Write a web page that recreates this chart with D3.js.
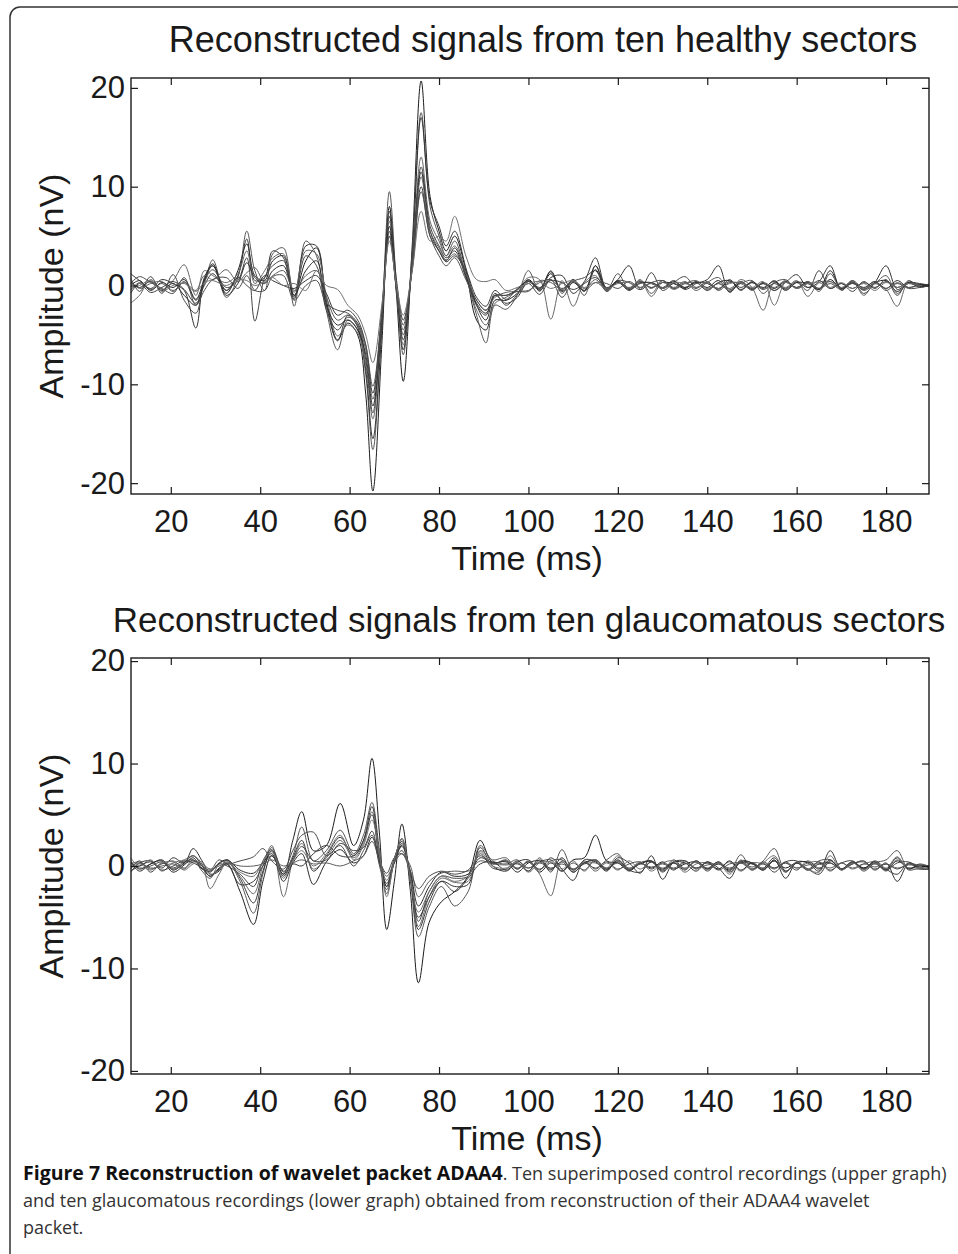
<!DOCTYPE html>
<html>
<head>
<meta charset="utf-8">
<script src="https://cdn.jsdelivr.net/npm/d3@7"></script>
<style>
    html, body { margin: 0; padding: 0; background: #fff; }
    svg { display: block; }
</style>
</head>
<body>
<svg id="chart" width="958" height="1254"></svg>
<script>
const xTicks = [20, 40, 60, 80, 100, 120, 140, 160, 180];
const yTicks = [-20, -10, 0, 10, 20];

// Times (ms) of the read-off points, upper graph
const healthyTimes = [
    11, 13, 15.5, 18, 20.5, 23, 25.6, 27.5, 29.4, 32.4,
    35, 37, 38.8, 41, 42.8, 45.2, 47.6, 50.2, 52.6, 54.8,
    57.3, 59.6, 61.8, 63.6, 65.2, 67.2, 68.9, 70.5, 72, 74,
    76, 78, 80, 81.6, 83.5, 86, 88.4, 90.5, 92.5,
    95, 97.5, 100, 102.5, 105, 107.5, 110, 112.5, 115, 117.5,
    120, 122.5, 125, 127.5, 130, 132.5, 135, 137.5, 140, 142.5,
    145, 147.5, 150, 152.5, 155, 157.5, 160, 162.5, 165, 167.5,
    170, 172.5, 175, 177.5, 180, 182.5, 185, 187.5, 190
];

// Ten control recordings (nV)
const healthySignals = [
    [0.3, -0.2, 0.4, -0.5, 0.2, -1.0, -2.0, 0.5, 2.0, -0.8, 1.5, 4.2, 1.0, 0.5, 2.5, 3.0, -1.0, 2.5, 3.8, -1.5,
     -5.5, -3.8, -5.0, -11.0, -20.8, -6.0, 8.0, -1.0, -9.7, 4.0, 20.7, 9.0, 5.5, 3.5, 5.0, 1.5, -3.5, -4.5, -1.5,
     -1.5, -0.8, 0.6, -0.4, 1.2, -0.6, 0.3, -0.5, 1.6, -0.4, 0.5, -0.3, 0.4, -0.2, 0.3, 0.2, -0.3, 0.4, -0.2, 0.5,
     -0.6, 0.3, -0.4, 0.2, -0.3, 0.4, -0.2, 0.3, -0.4, 0.6, -0.3, 0.2, -0.4, 0.3, 0.5, -0.6, 0.2, -0.1, 0.1],
    [-0.5, 0.3, -0.4, 0.2, -0.6, 0.4, -1.5, 0.2, 2.6, -1.2, 0.8, 5.5, 1.5, -0.5, 3.2, 3.8, -2.1, 4.5, 3.0, -2.5,
     -6.5, -3.5, -4.5, -9.0, -16.6, -4.0, 9.5, 0.0, -7.0, 3.5, 17.5, 8.0, 5.0, 3.0, 4.5, 1.0, -3.0, -5.8, -2.0,
     -2.4, -1.0, 1.5, -0.6, 1.5, -0.8, 0.6, -1.0, 2.0, -0.5, 1.2, -0.4, 0.6, -0.8, 0.5, -0.2, 0.4, -0.5, 0.3, 0.8,
     -0.4, 0.2, 0.5, -0.8, 0.3, 0.6, -0.3, 0.4, -0.6, 1.2, -0.4, 0.3, -0.5, 0.2, 1.0, -0.8, 0.3, 0.1, -0.1],
    [1.2, 0.5, -0.3, 0.6, 0.2, -0.5, -4.3, 0.8, 2.0, -0.5, 1.0, 4.7, 0.5, 0.8, 3.5, 2.8, -1.4, 4.0, 4.0, -2.0,
     -5.6, -3.0, -4.2, -8.5, -15.5, -4.5, 7.0, -0.5, -6.5, 3.0, 17.0, 8.5, 6.0, 4.0, 5.5, 1.8, -2.0, -3.5, -1.0,
     -1.8, -1.2, 0.4, -0.5, 0.8, 1.0, -0.8, 0.4, 2.8, -0.3, 0.6, 2.0, -0.4, 0.3, -0.2, 0.5, -0.4, 0.2, 0.6, 2.0,
     -0.7, 0.4, -0.3, 0.2, -0.5, 0.3, 1.1, -0.2, 0.4, 2.0, -0.5, 0.4, -0.8, 0.3, 2.0, -0.4, 0.3, 0.2, 0.0],
    [-1.8, -1.0, 0.6, -0.4, 0.5, 2.1, -1.0, 1.5, 1.0, 0.3, 1.2, 3.5, 0.2, 1.5, 2.8, 3.2, -0.7, 3.5, 3.2, -1.0,
     -5.1, -4.0, -4.8, -8.0, -13.5, -3.5, 6.5, -0.8, -6.0, 2.5, 13.0, 6.5, 4.5, 3.0, 4.0, 1.2, -2.5, -4.0, -1.8,
     -1.2, -0.5, 0.8, 0.6, -3.4, 0.5, -2.1, 0.3, 1.0, -0.6, 0.4, -0.3, 0.5, -1.1, 0.3, -0.4, 0.2, 0.5, -0.3, 0.2,
     -0.5, 0.6, -0.2, -2.5, 0.3, -0.2, 0.5, -1.1, 0.3, 0.4, -0.3, 0.5, -1.0, 0.2, -0.4, -2.1, 0.4, 0.0, 0.2],
    [0.8, -0.6, 0.9, -0.8, 1.1, -1.5, -2.8, 0.4, 1.6, -0.2, 0.5, 2.8, -3.6, 0.8, 2.0, 2.5, -1.2, 3.0, 2.0, -2.5,
     -4.5, -3.2, -4.0, -7.5, -12.9, -3.0, 5.5, -0.5, -5.0, 2.5, 12.0, 6.0, 4.0, 2.8, 3.5, 0.8, -2.0, -3.0, -0.8,
     -2.0, -0.9, 0.2, -0.9, 0.6, -1.2, 0.4, 0.8, 1.5, -0.6, 0.5, 0.3, -0.4, 1.3, -0.5, 0.3, 0.9, -0.2, 0.3, -0.4,
     0.6, -0.5, 0.4, -0.3, 0.5, -0.4, 0.3, -0.5, 1.5, -0.3, 0.2, -0.6, 0.4, -0.3, 0.6, -1.0, 0.5, -0.2, 0.1],
    [0.0, 0.5, -0.5, 0.3, -0.2, 0.6, -1.4, 0.6, 2.2, -1.0, 0.2, 2.3, 0.8, 0.2, 1.5, 2.0, -1.0, 1.5, 2.5, -2.0,
     -4.0, -3.5, -4.5, -7.0, -12.2, -3.5, 6.0, -0.5, -5.5, 2.0, 11.5, 5.5, 3.5, 2.5, 3.8, 1.0, -1.8, -2.8, -1.0,
     -1.0, -0.4, 0.5, -0.3, 1.4, -0.5, 0.6, -0.6, 2.0, -0.3, 0.4, -0.5, 0.3, 0.2, -0.3, 0.4, -0.2, 0.3, -0.5, 0.3,
     0.5, -0.4, 0.3, -0.2, 0.4, -0.5, 0.3, 0.2, -0.4, 1.5, -0.3, 0.3, -0.2, 0.4, -0.3, 0.5, -0.2, 0.1, 0.0],
    [0.5, -0.3, 0.2, 0.4, -0.5, 0.3, -0.5, 1.0, 0.6, 1.6, 0.4, 1.3, 1.8, 0.3, 1.0, 1.5, -0.5, 1.0, 1.5, -1.2,
     -3.5, -3.0, -4.0, -6.5, -11.5, -3.0, 5.0, -0.5, -4.5, 2.0, 11.0, 5.5, 3.8, 2.6, 3.2, 1.2, -1.5, -2.5, -1.2,
     -0.7, -0.6, -0.6, 0.5, 0.3, -0.4, 0.5, -0.3, 0.6, -0.5, 0.3, -0.2, 0.4, -0.3, 0.5, -0.3, 0.2, 0.3, -0.4, 0.2,
     -0.3, 0.4, -0.5, 0.3, -0.2, 0.5, -0.3, 0.2, -0.3, 0.4, -0.2, 0.3, -0.4, 0.2, -0.3, 0.3, -0.2, 0.0, -0.1],
    [-0.8, 0.2, -0.7, -0.2, 0.4, -0.4, -1.8, 0.0, 1.2, -0.5, 0.8, 0.0, -0.5, 1.0, 0.5, 0.0, -0.3, 0.5, 1.0, -0.8,
     -3.0, -2.5, -3.5, -6.0, -10.9, -2.5, 7.5, 0.5, -3.5, 1.5, 10.0, 5.0, 3.5, 2.4, 3.0, 1.5, -1.2, -2.1, -0.5,
     -1.4, -0.3, 0.4, -0.2, 0.5, 0.3, -0.4, 0.2, 0.8, -0.2, 0.3, -0.4, 0.2, 0.3, -0.3, 0.2, -0.2, 0.3, 0.2, -0.3,
     0.4, -0.2, 0.3, -0.4, 0.2, -0.3, 0.4, -0.2, 0.5, -0.3, 0.2, -0.3, 0.3, -0.2, 0.4, -0.2, 0.3, 0.0, 0.1],
    [0.2, 0.9, 0.3, -0.3, -0.8, 0.8, -2.0, -0.5, 0.6, 0.8, -0.3, 1.0, -0.5, -0.5, 0.9, 1.0, -1.5, 0.0, 0.5, -1.8,
     -2.5, -2.8, -3.8, -6.0, -10.2, -2.8, 5.0, -0.3, -4.0, 1.8, 9.5, 5.0, 3.0, 2.0, 2.8, 0.6, -1.5, -2.5, -1.0,
     -1.0, -0.6, -0.5, 0.3, 0.6, -0.3, 0.4, -0.5, 0.3, 0.2, -0.3, 0.4, -0.2, 0.3, 0.5, -0.3, 0.3, -0.3, 0.4, -0.5,
     0.3, 0.2, -0.4, 0.3, -0.5, 0.3, -0.2, 0.4, -0.3, 0.2, -0.4, 0.5, -0.3, 0.4, -0.5, 0.2, -0.3, -0.2, 0.1],
    [-0.3, 0.0, 0.5, -0.6, 0.0, 0.2, -0.6, 0.3, 0.5, 0.0, 0.6, 0.5, 0.0, 0.4, 0.8, 0.0, 0.2, -0.5, 1.5, 0.0,
     -0.4, -2.0, -3.0, -5.0, -7.8, -2.0, 4.5, 0.0, -3.0, 1.5, 7.5, 4.5, 5.0, 4.5, 7.0, 3.0, 0.6, 0.4, 0.6,
     -0.5, -0.2, 0.2, 0.4, -0.3, 0.2, 0.5, -0.2, 0.3, -0.3, 0.2, 0.3, -0.2, 0.2, -0.3, 0.3, 0.2, -0.2, 0.3, -0.3,
     0.2, 0.3, -0.2, 0.4, -2.0, 0.3, -0.3, 0.2, 0.3, -0.2, 0.3, -0.3, 0.2, -0.5, 0.3, -0.2, 0.2, 0.0, -0.1]
];

// Times (ms) of the read-off points, lower graph
const glaucomaTimes = [
    11, 13, 15.5, 18, 20.5, 23, 25, 27, 28.8, 30.8,
    32.6, 35.5, 38.5, 40.6, 42.6, 45.2, 47.3, 49.3, 51.9, 54.8,
    57.9, 60.9, 63.1, 65, 66.7, 68.3, 70, 71.7, 73.6, 75.4,
    77.8, 80.5, 83.5, 86.5, 89.2, 92,
    95, 97.5, 100, 102.5, 105, 107.5, 110, 112.5, 115, 117.5,
    120, 122.5, 125, 127.5, 130, 132.5, 135, 137.5, 140, 142.5,
    145, 147.5, 150, 152.5, 155, 157.5, 160, 162.5, 165, 167.5,
    170, 172.5, 175, 177.5, 180, 182.5, 185, 187.5, 190
];

// Ten glaucomatous recordings (nV)
const glaucomaSignals = [
    [0.5, -0.3, 0.2, 0.6, -0.4, 0.3, 1.0, 0.0, -1.0, -0.3, 0.2, -2.5, -5.7, -1.5, 1.0, -0.8, 2.5, 5.3, 1.5, 2.0,
     6.1, 2.0, 4.5, 10.5, 3.0, -6.2, -1.5, 4.1, -2.5, -11.4, -5.5, -3.5, -2.5, -1.0, 2.5, 0.3,
     0.5, -0.3, 0.4, -0.6, 0.3, -0.5, 0.6, 0.8, 3.0, 0.5, 0.3, -0.4, 0.3, -0.2, 0.4, -0.3, 0.2, 0.4, -0.3, 0.2,
     -0.4, 0.3, 0.2, -0.3, 0.5, -0.2, 0.3, -0.4, 0.2, 0.3, -0.3, 0.4, -0.2, 0.3, -0.4, 0.5, -0.2, 0.0, -0.2],
    [0.2, 0.4, -0.3, 0.2, 0.5, -0.2, 0.6, -0.5, -1.2, 0.2, 0.5, -1.5, -4.6, -0.8, 1.8, -0.6, 1.0, 3.8, 0.5, 1.5,
     3.5, 1.2, 3.0, 6.2, 1.5, -2.7, 0.5, 2.7, -1.5, -6.9, -4.0, -2.0, -3.9, -2.5, 2.0, 0.5,
     0.2, 0.6, -0.5, 0.8, -0.6, 1.6, -0.4, 0.5, -0.3, 0.6, 1.2, -0.4, 0.3, 0.5, -0.6, 0.3, -0.2, 0.4, -0.5, 0.3,
     -0.5, 1.1, -0.3, 0.5, 1.7, -0.5, 0.3, -0.4, 0.5, 0.6, -0.3, 0.4, -0.5, 0.3, 0.6, 1.5, -0.3, 0.2, -0.1],
    [-0.6, 0.3, 0.5, -0.2, 0.8, 0.3, 1.7, 0.5, -0.8, -0.5, 0.6, -1.2, -3.6, -0.5, 1.5, -1.0, 0.8, 2.5, -0.5, 1.0,
     2.8, 1.0, 2.5, 5.8, 1.0, -2.0, 0.8, 2.4, -1.2, -6.2, -3.5, -1.5, -2.0, -1.8, 1.8, 0.0,
     -0.5, 0.4, 0.6, -0.4, 0.8, -0.3, -1.4, 0.6, 0.4, -0.5, 0.8, 0.3, -0.7, 1.0, -1.3, 0.4, 0.5, -0.3, 0.4, -0.2,
     -1.2, 0.5, 0.3, -0.4, 0.6, -1.2, 0.4, 0.3, -0.5, 1.5, -0.3, 0.2, 0.5, -0.4, 0.3, -1.5, 0.2, -0.3, -0.3],
    [0.8, 0.0, 0.6, -0.5, 0.3, 0.6, 1.0, 0.2, -2.2, -0.8, 0.3, -1.0, -2.7, 0.0, 2.0, -3.0, 0.5, 2.2, -0.3, 0.8,
     2.5, 0.8, 2.2, 5.3, 0.8, -1.4, 0.5, 1.9, -1.0, -5.9, -3.0, -1.2, -1.6, -1.5, 1.5, 0.6,
     0.8, -0.3, 0.5, -0.8, -2.9, 0.5, -0.3, 0.4, -0.5, 0.3, -0.4, 0.5, -0.3, 0.4, -0.2, 0.3, -0.6, 0.2, 0.3, -0.3,
     0.4, -0.5, 0.3, 0.2, -0.3, 0.4, -0.2, 0.3, 0.4, -0.5, 0.3, -0.3, 0.2, 0.4, -0.5, 0.6, -0.2, -0.3, -0.2],
    [-0.3, 0.5, -0.6, 0.3, -0.2, 0.4, 0.6, 0.0, -0.6, 0.2, 0.0, -0.8, -2.0, 0.5, 1.6, -0.5, 0.6, 1.9, 0.5, 0.6,
     2.2, 1.5, 1.8, 3.4, 0.5, -0.7, 0.8, 1.2, -0.8, -5.4, -2.5, -1.0, -1.2, -1.0, 1.2, -0.2,
     -0.3, 0.5, -0.2, 0.4, 0.6, -0.5, 0.3, -0.4, 0.6, -0.3, 0.4, -0.5, 0.3, 0.4, -0.4, 0.6, -0.3, 0.5, -0.2, 0.4,
     -0.3, 0.5, -0.4, 0.3, -0.6, 0.4, 0.5, -0.3, 0.4, -0.4, 0.3, 0.5, -0.3, 0.2, -0.4, 0.3, 0.4, -0.1, -0.3],
    [0.4, -0.5, 0.2, 0.5, -0.6, 0.1, 0.8, -0.3, -0.5, 0.3, 0.6, -0.4, -0.7, 0.3, 1.2, -1.5, 0.3, 1.2, -1.8, 0.4,
     1.6, 0.3, 1.0, 2.8, 0.3, -2.0, 0.4, 2.0, -0.5, -3.9, -2.0, -0.6, -1.0, -0.8, 0.8, 0.3,
     0.4, -0.6, 0.3, 0.5, -0.4, 0.8, -0.6, 0.3, 0.5, -0.4, 0.6, -0.3, 0.2, 0.5, -0.3, 0.4, 0.3, -0.5, 0.4, -0.3,
     0.5, -0.4, 0.3, -0.2, 0.8, -0.5, 0.3, 0.4, -0.3, 0.6, -0.4, 0.3, -0.2, 0.4, -0.3, 0.8, -0.3, 0.1, -0.2],
    [0.0, 0.3, -0.2, 0.0, 0.2, -0.3, 0.4, 0.2, -0.3, 0.0, 0.3, 0.0, 0.0, 0.2, 0.6, 0.0, 0.3, 0.6, 0.2, 0.3,
     0.0, 0.5, 1.0, 2.4, 0.5, -1.0, 0.3, 1.2, 0.0, -3.0, -1.5, -0.7, -0.5, -0.5, 0.5, 0.2,
     0.1, 0.2, -0.2, 0.3, -0.2, 0.2, -0.3, 0.2, 0.3, -0.2, 0.3, -0.2, 0.2, -0.1, 0.2, -0.2, 0.3, -0.2, 0.1, 0.2,
     -0.2, 0.3, -0.1, 0.2, -0.2, 0.3, -0.2, 0.1, 0.2, -0.2, 0.3, -0.2, 0.2, -0.1, 0.2, -0.2, 0.1, 0.0, -0.1],
    [-0.5, 0.0, 0.4, -0.4, 0.0, 0.5, 0.3, -0.2, -1.0, -0.2, 0.2, -1.8, -1.5, 0.0, 1.0, -0.8, 0.2, 0.0, 1.2, 2.0,
     1.0, 1.0, 2.5, 5.0, 0.5, -1.7, 0.3, 2.2, -1.0, -5.0, -3.0, -1.5, -2.5, -1.2, 0.2, 0.4,
     -0.4, 0.3, -0.5, 0.6, -0.3, 0.4, -0.6, 0.3, 0.6, -0.3, 0.5, -0.4, -0.6, 0.4, -0.5, 0.3, -0.4, 0.5, -0.3, 0.4,
     -0.6, 0.4, 0.3, -0.4, 0.5, -0.6, 0.3, -0.3, -0.8, 0.5, -0.3, 0.4, -0.3, 0.5, -0.3, -0.8, 0.3, -0.2, -0.3],
    [0.3, -0.2, 0.0, 0.4, -0.3, 0.2, 0.5, 0.0, -0.4, 0.6, 0.2, 0.5, 0.9, 1.7, 0.5, -0.3, 1.5, 3.0, 3.3, 1.0,
     2.0, 0.0, 1.5, 3.0, 0.0, -2.3, 0.5, 1.5, -0.5, -2.2, -1.0, -0.5, -0.8, -0.4, 1.0, 0.2,
     0.6, -0.2, 0.4, -0.3, 0.5, 0.6, -0.4, 0.3, -0.2, 0.4, -0.3, 0.2, 0.4, -0.3, 0.3, -0.4, 0.5, -0.2, 0.3, -0.4,
     0.2, 0.3, -0.3, 0.4, -0.2, 0.3, -0.4, 0.5, -0.2, 0.3, -0.3, 0.2, 0.4, -0.3, 0.2, -0.3, 0.2, 0.1, 0.0],
    [-0.2, 0.2, -0.4, 0.3, 0.4, -0.4, 0.2, 0.4, -0.8, -0.4, 0.4, -0.6, -1.0, 0.4, 1.4, -1.2, 0.5, 1.5, 0.0, 1.2,
     3.0, 0.6, 2.0, 4.5, 1.0, -3.0, 0.6, 2.6, -1.2, -4.5, -2.5, -1.0, -1.5, -1.0, 1.4, 0.0,
     -0.2, 0.4, -0.6, 0.3, 0.4, -0.3, 0.5, -0.5, 0.6, -0.2, 1.0, -0.3, 0.4, -0.5, 0.3, 0.5, -0.3, 0.4, -0.4, 0.3,
     -0.8, 0.6, -0.4, 0.3, 1.0, -0.6, 0.4, -0.3, -0.6, 1.0, -0.4, 0.3, -0.4, 0.3, -0.2, 0.9, -0.4, -0.2, -0.3]
];

const lineShades = ["#1c1c1c", "#555555", "#333333", "#666666", "#444444",
                    "#2a2a2a", "#5c5c5c", "#3a3a3a", "#4c4c4c", "#707070"];

const panelTitles = [
    "Reconstructed signals from ten healthy sectors",
    "Reconstructed signals from ten glaucomatous sectors"
];

const labelFont = "'Liberation Sans', Arial, Helvetica, sans-serif";
const inkColor = "#1a1a1a";

function drawPanel(svg, times, signals, attrPanel) {
    const scaleX = d3.scaleLinear()
        .domain([11.1, 189.6])
        .range([attrPanel.left, attrPanel.right]);

    const scaleY = d3.scaleLinear()
        .domain(attrPanel.yDomain)
        .range([attrPanel.bottom, attrPanel.top]);

    const clipId = "clip-" + attrPanel.id;
    svg.append("clipPath")
        .attr("id", clipId)
        .append("rect")
        .attr("x", attrPanel.left)
        .attr("y", attrPanel.top)
        .attr("width", attrPanel.right - attrPanel.left)
        .attr("height", attrPanel.bottom - attrPanel.top);

    const line = d3.line()
        .x(d => scaleX(d[0]))
        .y(d => scaleY(d[1]))
        .curve(d3.curveCatmullRom.alpha(0.5));

    svg.append("g")
        .attr("clip-path", `url(#${clipId})`)
        .selectAll("path")
        .data(signals)
        .enter()
        .append("path")
        .attr("d", s => line(d3.zip(times, s)))
        .attr("fill", "none")
        .attr("stroke", (d, i) => lineShades[i])
        .attr("stroke-width", 1);

    // Matlab-style box: inward ticks on all four sides, plain hyphen minus
    const plain = d => String(d);
    const axes = [
        { axis: d3.axisBottom(scaleX).tickValues(xTicks).tickFormat(plain).tickPadding(16), y: attrPanel.bottom, x: 0 },
        { axis: d3.axisTop(scaleX).tickValues(xTicks).tickFormat(""), y: attrPanel.top, x: 0 },
        { axis: d3.axisLeft(scaleY).tickValues(yTicks).tickFormat(plain).tickPadding(6), y: 0, x: attrPanel.left },
        { axis: d3.axisRight(scaleY).tickValues(yTicks).tickFormat(""), y: 0, x: attrPanel.right }
    ];

    for (let a of axes) {
        const g = svg.append("g")
            .attr("transform", `translate(${a.x}, ${a.y})`)
            .attr("color", inkColor)
            .call(a.axis.tickSizeInner(-7).tickSizeOuter(0));
        g.select(".domain").remove();
        g.selectAll(".tick line").attr("stroke-width", 1.2);
        g.selectAll("text")
            .attr("font-family", labelFont)
            .attr("font-size", 31);
    }

    svg.append("rect")
        .attr("x", attrPanel.left)
        .attr("y", attrPanel.top)
        .attr("width", attrPanel.right - attrPanel.left)
        .attr("height", attrPanel.bottom - attrPanel.top)
        .attr("fill", "none")
        .attr("stroke", inkColor)
        .attr("stroke-width", 1.4);

    svg.append("text")
        .attr("x", attrPanel.titleX)
        .attr("y", attrPanel.top - 26)
        .attr("text-anchor", "middle")
        .attr("font-family", labelFont)
        .attr("font-size", attrPanel.titleSize)
        .attr("fill", inkColor)
        .text(attrPanel.title);

    svg.append("text")
        .attr("x", 527)
        .attr("y", attrPanel.bottom + attrPanel.xLabelGap)
        .attr("text-anchor", "middle")
        .attr("font-family", labelFont)
        .attr("font-size", 34)
        .attr("fill", inkColor)
        .text("Time (ms)");

    svg.append("text")
        .attr("transform", `translate(63, ${(attrPanel.top + attrPanel.bottom) / 2}) rotate(-90)`)
        .attr("text-anchor", "middle")
        .attr("font-family", labelFont)
        .attr("font-size", 34)
        .attr("fill", inkColor)
        .text("Amplitude (nV)");
}

function drawCaption(svg) {
    const caption = svg.append("g")
        .attr("font-family", "'Open Sans', 'Noto Sans', sans-serif")
        .attr("font-size", 18)
        .attr("fill", "#333");

    const first = caption.append("text").attr("x", 23).attr("y", 1180);
    first.append("tspan")
        .attr("font-weight", "bold")
        .attr("font-size", 19.5)
        .attr("fill", "#111")
        .text("Figure 7 Reconstruction of wavelet packet ADAA4");
    first.append("tspan")
        .text(". Ten superimposed control recordings (upper graph)");

    caption.append("text").attr("x", 23).attr("y", 1207)
        .text("and ten glaucomatous recordings (lower graph) obtained from reconstruction of their ADAA4 wavelet");
    caption.append("text").attr("x", 23).attr("y", 1234)
        .text("packet.");
}

const svg = d3.select("#chart");

// rounded frame around the figure, open to the right and bottom
svg.append("path")
    .attr("d", "M10,1260 L10,17 A10,10 0 0 1 20,7 L964,7")
    .attr("fill", "none")
    .attr("stroke", "#333")
    .attr("stroke-width", 1.5);

drawPanel(svg, healthyTimes, healthySignals, {
    id: "healthy", left: 131, right: 929, top: 78, bottom: 494,
    yDomain: [-21.1, 21.0], title: panelTitles[0], titleX: 543, titleSize: 36, xLabelGap: 76
});

drawPanel(svg, glaucomaTimes, glaucomaSignals, {
    id: "glaucoma", left: 131, right: 929, top: 658, bottom: 1074,
    yDomain: [-20.3, 20.3], title: panelTitles[1], titleX: 529, titleSize: 35, xLabelGap: 76
});

drawCaption(svg);
</script>
</body>
</html>
